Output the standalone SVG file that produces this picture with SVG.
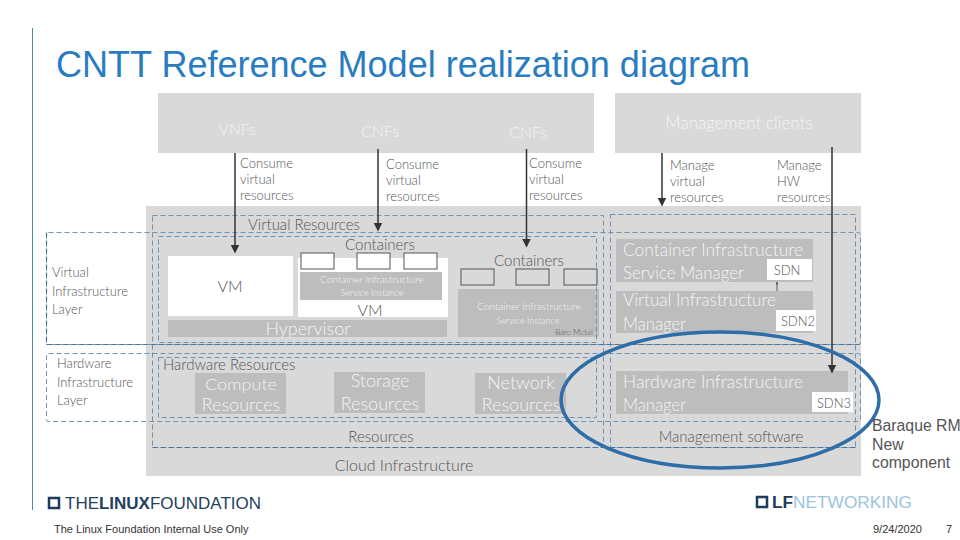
<svg xmlns="http://www.w3.org/2000/svg" width="960" height="540" viewBox="0 0 960 540">
<style>
text{font-family:"Lato","Liberation Sans",sans-serif;font-weight:300;fill:#555}
.a{font-family:"Liberation Sans",Arial,sans-serif;font-weight:400;fill:#333}
.w{fill:#f4f4f4}
.g{fill:#d9d9d9}
.m{fill:#bdbdbd}
.d{fill:none;stroke:#6f93b5;stroke-width:1;stroke-dasharray:5 3}
.e{fill:none;stroke:#4d7396;stroke-width:1.2;stroke-dasharray:5 3}
.c{fill:none;stroke:#333;stroke-width:1.5}
.t{font-size:13px}
.l{font-size:18px}
.s{font-size:15px}
.b{fill:none;stroke:#555;stroke-width:1}
.q{font-size:15.800px;fill:#555}
</style>
<defs>
<marker id="h" markerWidth="8" markerHeight="8" refX="5" refY="3" orient="auto"><path d="M0 0L6 3L0 6z" fill="#333"/></marker>
<marker id="hs" markerWidth="4" markerHeight="4" refX="2.5" refY="1.5" orient="auto"><path d="M0 0L3 1.5L0 3z" fill="#555"/></marker>
</defs>
<rect width="960" height="540" fill="#fff"/>
<path d="M32.5 28V510" stroke="#4a8aa6" stroke-width="1" fill="none"/>
<text x="56" y="77" class="a" style="font-size:36px;fill:#2a7cc0" textLength="694" lengthAdjust="spacingAndGlyphs">CNTT Reference Model realization diagram</text>
<g id="top-left"><rect x="158" y="93" width="436" height="60" class="g"/>
<text x="237" y="135" class="s w" style="font-size:16px" text-anchor="middle">VNFs</text><text x="380" y="137" class="s w" style="font-size:16px" text-anchor="middle">CNFs</text><text x="528" y="138" class="s w" style="font-size:16px" text-anchor="middle">CNFs</text></g>
<g id="top-right"><rect x="615" y="93" width="246" height="60" class="g"/>
<text x="739" y="129" class="s w" style="font-size:17px" text-anchor="middle">Management clients</text></g>
<g id="cloud"><rect x="146" y="206" width="715" height="270" class="g"/>
<text x="404" y="471" class="s" text-anchor="middle" style="font-size:16px">Cloud Infrastructure</text></g>
<g id="labels" class="t">
<text x="240" y="168">Consume</text><text x="240" y="184">virtual</text><text x="240" y="200">resources</text>
<text x="386" y="169">Consume</text><text x="386" y="185">virtual</text><text x="386" y="201">resources</text>
<text x="529" y="168">Consume</text><text x="529" y="184">virtual</text><text x="529" y="200">resources</text>
<text x="670" y="170">Manage</text><text x="670" y="186">virtual</text><text x="670" y="202">resources</text>
<text x="777" y="170">Manage</text><text x="777" y="186">HW</text><text x="777" y="202">resources</text>
</g>
<g id="boxes">
<rect x="168" y="256" width="125" height="60" fill="#fff"/>
<rect x="298" y="258" width="150" height="59" fill="#fff"/>
<rect x="300" y="272" width="142" height="28" class="m"/>
<rect x="168" y="320" width="279" height="17" class="m"/>
<rect x="458" y="289" width="141" height="48" class="m"/>
<rect x="301" y="253" width="33" height="16" class="b" style="fill:#fff"/><rect x="357" y="253" width="33" height="16" class="b" style="fill:#fff"/><rect x="404" y="253" width="33" height="16" class="b" style="fill:#fff"/>
<rect x="461" y="269" width="33" height="16" class="b"/><rect x="516" y="269" width="33" height="16" class="b"/><rect x="564" y="269" width="33" height="16" class="b"/>
<rect x="616" y="239" width="197" height="43" class="m"/>
<rect x="616" y="291" width="197" height="42" class="m"/>
<rect x="767" y="259" width="45" height="21" fill="#fff"/>
<rect x="776" y="310" width="40" height="21" fill="#fff"/>
<rect x="616" y="371" width="232" height="43" class="m"/>
<rect x="812" y="392" width="41" height="20" fill="#fff"/>
<rect x="195" y="373" width="91" height="41" class="m"/>
<rect x="334" y="372" width="91" height="41" class="m"/>
<rect x="475" y="373" width="91" height="41" class="m"/>
</g>
<g id="node-text">
<text x="230" y="292" class="s" style="font-size:16px" text-anchor="middle">VM</text>
<text x="370" y="316" class="s" style="font-size:16px" text-anchor="middle">VM</text>
<text x="308" y="335" class="l w" text-anchor="middle">Hypervisor</text>
<text x="372" y="283" class="w" style="font-size:10px" text-anchor="middle">Container Infrastructure</text>
<text x="372" y="296" class="w" style="font-size:9px" text-anchor="middle">Service Instance</text>
<text x="529" y="310" class="w" style="font-size:10px" text-anchor="middle">Container Infrastructure</text>
<text x="528" y="324" class="w" style="font-size:9px" text-anchor="middle">Service Instance</text>
<text x="574" y="335" style="font-size:8px" text-anchor="middle">Bare Metal</text>
<text x="380" y="250" class="s" text-anchor="middle">Containers</text>
<text x="529" y="266" class="s" text-anchor="middle">Containers</text>
<text x="304" y="230" class="s" text-anchor="middle">Virtual Resources</text>
<text x="623" y="256" class="l w" textLength="180" lengthAdjust="spacingAndGlyphs">Container Infrastructure</text>
<text x="623" y="279" class="l w" textLength="121" lengthAdjust="spacingAndGlyphs">Service Manager</text>
<text x="623" y="306" class="l w" textLength="153" lengthAdjust="spacingAndGlyphs">Virtual Infrastructure</text>
<text x="623" y="330" class="l w" textLength="63" lengthAdjust="spacingAndGlyphs">Manager</text>
<text x="623" y="388" class="l w" textLength="180" lengthAdjust="spacingAndGlyphs">Hardware Infrastructure</text>
<text x="623" y="411" class="l w" textLength="63" lengthAdjust="spacingAndGlyphs">Manager</text>
<text x="787" y="275" class="t" text-anchor="middle">SDN</text><text x="798" y="326" class="t" text-anchor="middle">SDN2</text><text x="834" y="408" class="t" text-anchor="middle">SDN3</text>
<text x="163" y="370" class="s">Hardware Resources</text>
<text x="241" y="390" class="w" style="font-size:16.500px" text-anchor="middle" textLength="72" lengthAdjust="spacingAndGlyphs">Compute</text><text x="241" y="411" class="l w" text-anchor="middle">Resources</text>
<text x="380" y="387" class="l w" text-anchor="middle">Storage</text><text x="380" y="410" class="l w" text-anchor="middle">Resources</text>
<text x="521" y="389" class="l w" text-anchor="middle">Network</text><text x="521" y="411" class="l w" text-anchor="middle">Resources</text>
<text x="381" y="442" class="s" text-anchor="middle">Resources</text><text x="731" y="442" class="s" text-anchor="middle">Management software</text>
<text x="52" y="277" class="t">Virtual</text><text x="52" y="296" class="t">Infrastructure</text><text x="52" y="314" class="t">Layer</text>
<text x="57" y="368" class="t">Hardware</text><text x="57" y="387" class="t">Infrastructure</text><text x="57" y="405" class="t">Layer</text>
</g>
<g id="dashed">
<rect x="46.5" y="232.5" width="814" height="112" rx="2" class="d"/>
<rect x="46.5" y="353.5" width="814" height="68" rx="2" class="d"/>
<rect x="152.5" y="215.5" width="451" height="232" class="d"/>
<rect x="158.5" y="236.5" width="438" height="106" class="d"/>
<rect x="158.5" y="357.5" width="438" height="60" class="d"/>
<rect x="610.5" y="214.5" width="245" height="233" class="d"/>
<path d="M46.500 344.500H860.500M152.500 447.500H603.500M610.500 447.500H855.500M46.500 232.500V344.500" class="e"/>
</g>
<g id="connectors">
<path d="M235 153V252" class="c" marker-end="url(#h)"/>
<path d="M378 149V230" class="c" marker-end="url(#h)"/>
<path d="M526.500 149V246" class="c" marker-end="url(#h)"/>
<path d="M662 153V205" class="c" marker-end="url(#h)"/>
<path d="M832 147V372" class="c" marker-end="url(#h)"/>
<path d="M777 291V282" stroke="#555" fill="none" stroke-width="1" marker-end="url(#hs)"/>
</g>
<ellipse id="highlight" cx="720" cy="400" rx="159" ry="68" fill="none" stroke="#2e6da8" stroke-width="3.500"/>
<g id="baraque"><text x="872" y="431" class="a q">Baraque RM</text><text x="872" y="450" class="a q">New</text><text x="872" y="468" class="a q">component</text></g>
<g id="footer">
<rect x="49" y="498" width="10" height="10" fill="none" stroke="#1d3b5c" stroke-width="2.500"/>
<text x="65" y="509" class="a" style="font-size:16px;fill:#22405f" textLength="196" lengthAdjust="spacingAndGlyphs">THE<tspan font-weight="bold">LINUX</tspan>FOUNDATION</text>
<rect x="757" y="497" width="10" height="10" fill="none" stroke="#1d3b5c" stroke-width="2.500"/>
<text x="772" y="508" class="a" style="font-size:16px;fill:#1d3b5c;font-weight:bold" textLength="140" lengthAdjust="spacingAndGlyphs">LF<tspan font-weight="normal" style="fill:#9dc3dd">NETWORKING</tspan></text>
<text x="54" y="533" class="a" style="font-size:11px">The Linux Foundation Internal Use Only</text>
<text x="873" y="533" class="a" style="font-size:11px">9/24/2020</text>
<text x="946" y="533" class="a" style="font-size:11px">7</text>
</g>
</svg>
